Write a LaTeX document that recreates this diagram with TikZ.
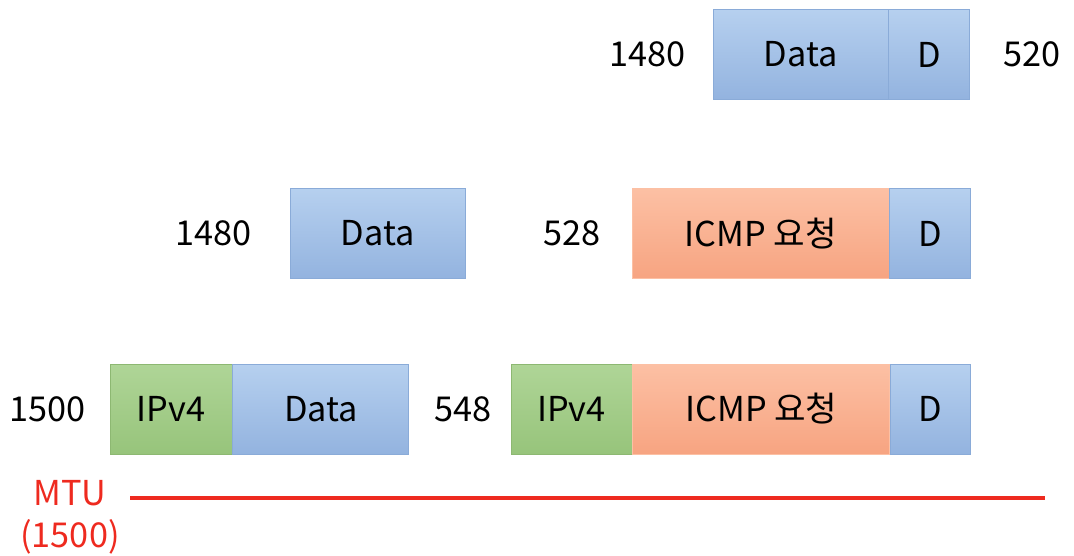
\documentclass[tikz,border=0pt]{standalone}
\usepackage{fontspec}
\setmainfont{Noto Sans CJK KR}
\usetikzlibrary{positioning}
\definecolor{blueTop}{HTML}{B6D0EF}
\definecolor{blueBot}{HTML}{93B3DF}
\definecolor{blueLine}{HTML}{8AABD8}
\definecolor{greenTop}{HTML}{AFD597}
\definecolor{greenBot}{HTML}{97C47B}
\definecolor{greenLine}{HTML}{8DB872}
\definecolor{orangeTop}{HTML}{FCC0A4}
\definecolor{orangeBot}{HTML}{F7A481}
\definecolor{mtuRed}{HTML}{EE2A1F}
\tikzset{
	field/.style={draw, align=center, minimum height=1.8cm, inner sep=0pt, line width=0.5pt, font=\fontsize{19.5}{22}\selectfont},
	data/.style={field, draw=blueLine, top color=blueTop, bottom color=blueBot},
	ipv4/.style={field, draw=greenLine, top color=greenTop, bottom color=greenBot},
	icmp/.style={field, draw=orangeTop, top color=orangeTop, bottom color=orangeBot},
	size/.style={font=\fontsize{19.5}{22}\selectfont, inner sep=0pt},
	mtu/.style={text=mtuRed, font=\fontsize{19.5}{22}\selectfont, inner sep=0pt}
}

\begin{document}
\begin{tikzpicture}
	\useasboundingbox (0,0) rectangle (21.48,-11.12);
	% row 1
	\node[data, minimum width=3.5cm] (data1) at (16.01,-1.09) {Data};
	\node[data, minimum width=1.62cm, right=0pt of data1] (d1) {D};
	\node[size, left=0.54cm of data1] (len1) {1480};
	\node[size, right=0.66cm of d1] (len2) {520};
	% row 2
	\node[data, minimum width=3.5cm] (data2) at (7.55,-4.67) {Data};
	\node[size, left=0.76cm of data2] (len3) {1480};
	\node[icmp, minimum width=5.14cm] (icmp2) at (15.21,-4.67) {ICMP 요청};
	\node[data, minimum width=1.62cm, right=0pt of icmp2] (d2) {D};
	\node[size, left=0.62cm of icmp2] (len4) {528};
	% row 3
	\node[ipv4, minimum width=2.44cm] (ip3) at (3.42,-8.18) {IPv4};
	\node[data, minimum width=3.52cm, right=0pt of ip3] (data3) {Data};
	\node[size, left=0.48cm of ip3] (len5) {1500};
	\node[ipv4, minimum width=2.42cm] (ip4) at (11.43,-8.18) {IPv4};
	\node[icmp, minimum width=5.14cm, right=0pt of ip4] (icmp3) {ICMP 요청};
	\node[data, minimum width=1.6cm, right=0pt of icmp3] (d3) {D};
	\node[size, left=0.38cm of ip4] (len6) {548};
	% MTU
	\node[mtu] (mtu) at (1.4,-9.86) {MTU};
	\node[mtu, below=0.26cm of mtu] (mtusize) {(1500)};
	\coordinate (mtustart) at (2.6,-9.96);
	\coordinate (mtuend) at (20.9,-9.96);
	\draw[mtuRed, line width=2.2pt] (mtustart) -- (mtuend);
\end{tikzpicture}
\end{document}
